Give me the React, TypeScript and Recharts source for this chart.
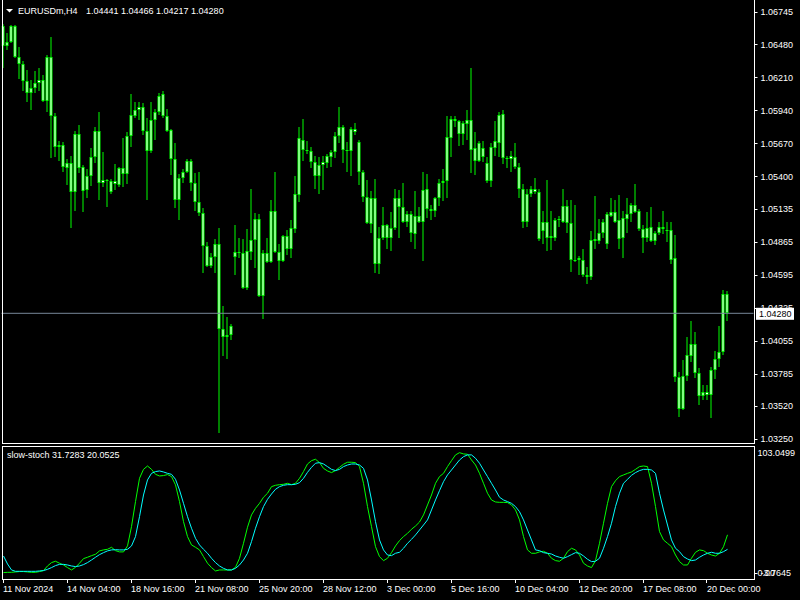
import React from 'react'
import { ComposedChart, Bar, Line, XAxis, YAxis, ReferenceLine } from 'recharts'

// EURUSDm H4, 11 Nov - 20 Dec 2024, one entry per bar (oldest first)
const OPEN = [
  1.0663, 1.0647, 1.0650, 1.0663, 1.0638, 1.0632, 1.0618, 1.0608, 1.0612, 1.0616,
  1.0619, 1.0602, 1.0638, 1.0589, 1.0564, 1.0566, 1.0547, 1.0551, 1.0527, 1.0575,
  1.0548, 1.0529, 1.0540, 1.0556, 1.0577, 1.0535, 1.0537, 1.0536, 1.0534, 1.0533,
  1.0547, 1.0542, 1.0573, 1.0589, 1.0594, 1.0597, 1.0577, 1.0561, 1.0586, 1.0593,
  1.0607, 1.0589, 1.0578, 1.0554, 1.0521, 1.0539, 1.0544, 1.0553, 1.0535, 1.0519,
  1.0510, 1.0483, 1.0467, 1.0474, 1.0485, 1.0415, 1.0409, 1.0410, 1.0474, 1.0478,
  1.0477, 1.0449, 1.0478, 1.0488, 1.0505, 1.0442, 1.0477, 1.0470, 1.0512, 1.0478,
  1.0471, 1.0491, 1.0481, 1.0497, 1.0525, 1.0570, 1.0562, 1.0561, 1.0552, 1.0540,
  1.0549, 1.0551, 1.0556, 1.0560, 1.0573, 1.0580, 1.0562, 1.0561, 1.0579, 1.0568,
  1.0544, 1.0523, 1.0501, 1.0522, 1.0468, 1.0490, 1.0500, 1.0490, 1.0498, 1.0522,
  1.0515, 1.0503, 1.0509, 1.0493, 1.0508, 1.0503, 1.0530, 1.0513, 1.0512, 1.0522,
  1.0535, 1.0536, 1.0571, 1.0587, 1.0585, 1.0575, 1.0583, 1.0586, 1.0563, 1.0553,
  1.0563, 1.0551, 1.0536, 1.0563, 1.0567, 1.0591, 1.0555, 1.0554, 1.0556, 1.0548,
  1.0530, 1.0503, 1.0526, 1.0530, 1.0527, 1.0495, 1.0503, 1.0490, 1.0490, 1.0504,
  1.0503, 1.0516, 1.0502, 1.0472, 1.0472, 1.0472, 1.0459, 1.0458, 1.0487, 1.0487,
  1.0494, 1.0485, 1.0508, 1.0511, 1.0504, 1.0490, 1.0505, 1.0509, 1.0517, 1.0512,
  1.0497, 1.0490, 1.0499, 1.0487, 1.0494, 1.0499, 1.0496, 1.0496, 1.0473, 1.0376,
  1.0350, 1.0377, 1.0393, 1.0403, 1.0379, 1.0360, 1.0364, 1.0361, 1.0382, 1.0391,
  1.0396, 1.04441,
]
const HIGH = [
  1.0665, 1.0657, 1.0664, 1.0664, 1.0646, 1.0634, 1.0627, 1.0619, 1.0626, 1.0629,
  1.0623, 1.0639, 1.0654, 1.0592, 1.0569, 1.0568, 1.0554, 1.0557, 1.0577, 1.0582,
  1.0549, 1.0546, 1.0563, 1.0580, 1.0593, 1.0560, 1.0538, 1.0538, 1.0550, 1.0548,
  1.0571, 1.0576, 1.0607, 1.0601, 1.0601, 1.0600, 1.0588, 1.0601, 1.0595, 1.0608,
  1.0610, 1.0595, 1.0579, 1.0567, 1.0542, 1.0546, 1.0554, 1.0554, 1.0543, 1.0544,
  1.0514, 1.0486, 1.0477, 1.0489, 1.0498, 1.0434, 1.0425, 1.0419, 1.0500, 1.0490,
  1.0489, 1.0497, 1.0530, 1.0510, 1.0509, 1.0480, 1.0490, 1.0521, 1.0544, 1.0485,
  1.0492, 1.0496, 1.0504, 1.0540, 1.0580, 1.0587, 1.0569, 1.0564, 1.0557, 1.0556,
  1.0557, 1.0558, 1.0562, 1.0576, 1.0597, 1.0582, 1.0568, 1.0580, 1.0584, 1.0570,
  1.0545, 1.0537, 1.0528, 1.0538, 1.0499, 1.0515, 1.0501, 1.0511, 1.0530, 1.0529,
  1.0535, 1.0512, 1.0512, 1.0528, 1.0515, 1.0544, 1.0542, 1.0517, 1.0523, 1.0538,
  1.0546, 1.0589, 1.0589, 1.0589, 1.0586, 1.0585, 1.0594, 1.0629, 1.0576, 1.0569,
  1.0569, 1.0556, 1.0567, 1.0585, 1.0593, 1.0594, 1.0557, 1.0561, 1.0567, 1.0551,
  1.0534, 1.0530, 1.0532, 1.0539, 1.0530, 1.0512, 1.0537, 1.0512, 1.0506, 1.0508,
  1.0530, 1.0521, 1.0521, 1.0517, 1.0475, 1.0481, 1.0466, 1.0495, 1.0524, 1.0505,
  1.0505, 1.0511, 1.0522, 1.0521, 1.0525, 1.0512, 1.0522, 1.0518, 1.0534, 1.0513,
  1.0500, 1.0511, 1.0515, 1.0495, 1.0503, 1.0512, 1.0503, 1.0503, 1.0492, 1.0380,
  1.0390, 1.0409, 1.0422, 1.0413, 1.0383, 1.0369, 1.0369, 1.0384, 1.0397, 1.0418,
  1.0447, 1.04466,
]
const LOW = [
  1.0629, 1.0643, 1.0649, 1.0637, 1.0620, 1.0610, 1.0601, 1.0594, 1.0608, 1.0610,
  1.0601, 1.0593, 1.0555, 1.0556, 1.0553, 1.0544, 1.0533, 1.0498, 1.0512, 1.0543,
  1.0511, 1.0522, 1.0532, 1.0551, 1.0521, 1.0531, 1.0515, 1.0526, 1.0529, 1.0531,
  1.0531, 1.0534, 1.0564, 1.0588, 1.0586, 1.0574, 1.0521, 1.0559, 1.0570, 1.0590,
  1.0588, 1.0576, 1.0541, 1.0514, 1.0504, 1.0535, 1.0543, 1.0528, 1.0512, 1.0508,
  1.0461, 1.0466, 1.0465, 1.0461, 1.0330, 1.0393, 1.0391, 1.0406, 1.0459, 1.0473,
  1.0448, 1.0447, 1.0472, 1.0465, 1.0441, 1.0423, 1.0469, 1.0469, 1.0477, 1.0455,
  1.0470, 1.0476, 1.0473, 1.0494, 1.0519, 1.0553, 1.0558, 1.0547, 1.0530, 1.0526,
  1.0529, 1.0547, 1.0548, 1.0555, 1.0567, 1.0551, 1.0544, 1.0540, 1.0574, 1.0533,
  1.0519, 1.0501, 1.0494, 1.0461, 1.0460, 1.0488, 1.0481, 1.0479, 1.0496, 1.0490,
  1.0502, 1.0499, 1.0486, 1.0481, 1.0502, 1.0471, 1.0506, 1.0504, 1.0507, 1.0516,
  1.0520, 1.0522, 1.0556, 1.0580, 1.0565, 1.0566, 1.0570, 1.0543, 1.0541, 1.0552,
  1.0552, 1.0535, 1.0531, 1.0557, 1.0556, 1.0550, 1.0547, 1.0544, 1.0546, 1.0522,
  1.0498, 1.0499, 1.0523, 1.0526, 1.0487, 1.0485, 1.0479, 1.0480, 1.0487, 1.0499,
  1.0502, 1.0494, 1.0462, 1.0470, 1.0459, 1.0458, 1.0452, 1.0455, 1.0481, 1.0485,
  1.0490, 1.0481, 1.0507, 1.0502, 1.0481, 1.0473, 1.0494, 1.0503, 1.0510, 1.0495,
  1.0477, 1.0486, 1.0486, 1.0484, 1.0492, 1.0493, 1.0486, 1.0468, 1.0372, 1.0343,
  1.0349, 1.0373, 1.0388, 1.0375, 1.0353, 1.0357, 1.0357, 1.0342, 1.0374, 1.0384,
  1.0394, 1.04217,
]
const CLOSE = [
  1.0647, 1.0650, 1.0663, 1.0638, 1.0632, 1.0618, 1.0608, 1.0612, 1.0616, 1.0619,
  1.0602, 1.0638, 1.0589, 1.0564, 1.0566, 1.0548, 1.0551, 1.0527, 1.0575, 1.0547,
  1.0528, 1.0540, 1.0556, 1.0577, 1.0535, 1.0537, 1.0536, 1.0527, 1.0536, 1.0547,
  1.0542, 1.0573, 1.0590, 1.0594, 1.0597, 1.0577, 1.0561, 1.0586, 1.0593, 1.0606,
  1.0589, 1.0577, 1.0554, 1.0521, 1.0539, 1.0544, 1.0553, 1.0535, 1.0519, 1.0510,
  1.0483, 1.0467, 1.0474, 1.0485, 1.0415, 1.0409, 1.0410, 1.0418, 1.0478, 1.0477,
  1.0449, 1.0479, 1.0488, 1.0505, 1.0442, 1.0477, 1.0470, 1.0512, 1.0478, 1.0471,
  1.0491, 1.0481, 1.0498, 1.0526, 1.0571, 1.0562, 1.0561, 1.0552, 1.0540, 1.0549,
  1.0552, 1.0557, 1.0560, 1.0573, 1.0580, 1.0562, 1.0561, 1.0579, 1.0576, 1.0544,
  1.0523, 1.0502, 1.0522, 1.0468, 1.0490, 1.0500, 1.0490, 1.0498, 1.0522, 1.0515,
  1.0503, 1.0509, 1.0494, 1.0508, 1.0503, 1.0529, 1.0513, 1.0512, 1.0522, 1.0535,
  1.0536, 1.0572, 1.0587, 1.0585, 1.0575, 1.0584, 1.0586, 1.0562, 1.0553, 1.0567,
  1.0556, 1.0536, 1.0564, 1.0569, 1.0590, 1.0555, 1.0554, 1.0557, 1.0548, 1.0530,
  1.0503, 1.0526, 1.0530, 1.0527, 1.0489, 1.0503, 1.0490, 1.0491, 1.0504, 1.0505,
  1.0516, 1.0502, 1.0472, 1.0471, 1.0473, 1.0459, 1.0458, 1.0488, 1.0489, 1.0494,
  1.0503, 1.0509, 1.0511, 1.0503, 1.0489, 1.0506, 1.0509, 1.0517, 1.0511, 1.0497,
  1.0490, 1.0498, 1.0487, 1.0494, 1.0499, 1.0497, 1.0495, 1.0472, 1.0376, 1.0350,
  1.0377, 1.0394, 1.0403, 1.0379, 1.0360, 1.0364, 1.0361, 1.0382, 1.0391, 1.0396,
  1.0444, 1.0428,
]

// slow stochastic: main (green) and signal (cyan)
const STOCH_MAIN = [
  1.4, 1.6, 1.6, 1.9, 2.2, 2.2, 1.9, 1.6, 1.6, 2.2,
  3.0, 6.7, 9.4, 10.5, 8.9, 7.5, 5.4, 3.5, 5.6, 8.9,
  12.6, 13.7, 15.0, 16.1, 18.8, 19.6, 20.1, 21.7, 19.0, 18.0,
  18.0, 22.8, 38.3, 58.4, 77.1, 84.3, 87.0, 84.3, 80.3, 79.0,
  79.3, 80.1, 78.5, 71.8, 58.4, 42.3, 30.3, 23.6, 21.7, 19.6,
  14.2, 8.9, 5.4, 2.7, 3.5, 3.5, 3.5, 3.5, 5.6, 12.9,
  24.9, 37.8, 47.7, 53.0, 57.0, 61.9, 65.1, 70.4, 71.5, 72.0,
  72.3, 73.1, 72.0, 73.1, 77.1, 82.5, 88.6, 91.3, 92.4, 89.7,
  85.1, 83.0, 81.7, 83.3, 85.9, 88.4, 90.0, 90.0, 89.7, 86.5,
  73.1, 54.4, 38.3, 22.2, 14.2, 11.0, 12.9, 17.4, 22.8, 27.1,
  30.3, 32.9, 36.2, 38.8, 42.0, 47.7, 55.7, 63.7, 73.1, 78.5,
  81.1, 86.5, 91.3, 95.9, 97.7, 96.7, 96.4, 91.8, 87.8, 81.1,
  73.1, 65.1, 59.7, 58.1, 57.8, 57.8, 57.6, 55.7, 51.7, 43.7,
  30.3, 19.6, 16.9, 16.9, 18.0, 18.5, 16.9, 12.9, 11.0, 10.5,
  12.9, 18.2, 20.9, 19.6, 15.5, 8.9, 6.7, 5.4, 11.0, 24.9,
  41.0, 57.0, 70.4, 75.2, 78.5, 79.8, 81.1, 82.2, 84.3, 86.5,
  87.0, 86.5, 73.1, 54.4, 34.3, 27.6, 24.9, 22.2, 15.5, 10.2,
  7.5, 7.5, 12.9, 17.7, 19.6, 19.0, 16.9, 15.5, 14.7, 16.9,
  22.2, 31.7283,
]
const STOCH_SIGNAL = [
  14.7, 8.3, 3.5, 2.4, 2.4, 2.4, 2.4, 2.4, 2.4, 2.7,
  3.0, 4.0, 5.4, 7.0, 8.0, 8.0, 7.5, 6.7, 6.2, 6.7,
  7.8, 9.4, 11.5, 13.7, 15.8, 17.4, 18.8, 19.6, 19.8, 19.6,
  19.6, 20.1, 22.8, 30.3, 46.3, 63.7, 75.8, 81.1, 82.5, 83.0,
  82.2, 81.1, 80.3, 76.3, 67.7, 57.0, 46.3, 37.0, 28.9, 23.6,
  20.1, 16.9, 12.9, 9.4, 6.7, 4.8, 3.5, 3.5, 4.8, 7.5,
  11.5, 16.9, 26.3, 37.0, 46.3, 54.4, 60.2, 64.5, 68.3, 70.4,
  71.5, 72.0, 72.0, 72.3, 73.6, 77.1, 81.9, 85.9, 89.2, 89.7,
  88.6, 86.5, 84.3, 83.3, 84.3, 86.5, 87.8, 88.6, 88.6, 87.8,
  85.1, 75.8, 59.7, 42.3, 27.6, 19.6, 15.5, 15.0, 16.9, 17.7,
  20.9, 24.9, 28.1, 31.6, 35.6, 39.6, 43.7, 51.7, 59.7, 67.2,
  74.4, 79.8, 83.8, 87.8, 91.8, 94.5, 95.9, 95.9, 93.2, 89.2,
  83.8, 78.5, 73.1, 67.7, 61.9, 59.7, 58.4, 57.0, 54.4, 50.3,
  43.7, 35.6, 27.6, 19.6, 19.0, 17.4, 16.9, 16.3, 14.7, 13.7,
  12.9, 14.2, 15.8, 17.4, 16.9, 14.7, 12.1, 10.2, 10.5, 12.9,
  20.9, 30.3, 41.0, 54.4, 65.1, 73.1, 76.3, 79.5, 81.7, 83.3,
  84.3, 84.3, 83.8, 81.1, 65.1, 51.7, 39.6, 27.6, 20.9, 18.2,
  14.2, 12.3, 11.0, 11.5, 13.7, 15.5, 16.9, 17.7, 16.9, 16.9,
  18.2, 20.0525,
]

const PRICE_TICKS = [
  1.06745, 1.0648, 1.0621, 1.0594, 1.0567, 1.054, 1.05135,
  1.04865, 1.04595, 1.04325, 1.04055, 1.03785, 1.0352, 1.0325,
]
const TIME_LABEL_BARS = [0, 16, 32, 48, 64, 80, 96, 112, 128, 144, 160, 176]
const TIME_LABELS = [
  '11 Nov 2024', '14 Nov 04:00', '18 Nov 16:00', '21 Nov 08:00', '25 Nov 20:00', '28 Nov 12:00',
  '3 Dec 00:00', '5 Dec 16:00', '10 Dec 04:00', '12 Dec 20:00', '17 Dec 08:00', '20 Dec 00:00',
]
const STOCH_TICKS = [103.0499, 0, -3.7645]

const SYMBOL = 'EURUSDm,H4'
const LAST_PRICE = 1.0428
const PRICE_DOMAIN = [1.03219, 1.06843]
const STOCH_DOMAIN = [-3.7645, 103.0499]
const SLOTS = 188 // visible bar slots incl. right shift

const CANDLE = '#00ff00'
const SIGNAL = '#00ffff'
const FONT = '"Liberation Sans", Arial, sans-serif'

const rows = OPEN.map((o, i) => ({
  i,
  range: [LOW[i], HIGH[i]],
  open: o,
  high: HIGH[i],
  low: LOW[i],
  close: CLOSE[i],
  k: STOCH_MAIN[i],
  d: STOCH_SIGNAL[i],
}))

const Candle = (props: any) => {
  const { x, y, width, height, payload } = props
  if (!payload || !(height > 0)) return null
  const cx = x + width / 2
  const k = height / (payload.high - payload.low)
  const top = y + (payload.high - Math.max(payload.open, payload.close)) * k
  const bot = y + (payload.high - Math.min(payload.open, payload.close)) * k
  const bt = Math.round(top) + 0.5
  const bb = Math.max(bt, Math.round(bot) - 0.5)
  return (
    <g>
      <line x1={cx} x2={cx} y1={Math.round(y)} y2={Math.round(y + height)} stroke={CANDLE} strokeWidth={1} />
      {bb - bt < 1 ? (
        <line x1={cx - 1.5} x2={cx + 1.5} y1={bt} y2={bt} stroke={CANDLE} strokeWidth={1} />
      ) : (
        <rect x={cx - 1} y={bt} width={2} height={bb - bt} fill="#ffffff" stroke={CANDLE} strokeWidth={1} />
      )}
    </g>
  )
}

const PriceTick = (p: any) => {
  const ty = Math.round(p.y) + 0.5
  return (
    <g>
      <line x1={p.x + 1.5} x2={p.x + 4} y1={ty} y2={ty} stroke="#fff" />
      <text x={p.x + 7} y={p.y + 3.2} fill="#fff" fontSize={9} fontFamily={FONT}>
        {Number(p.payload.value).toFixed(5)}
      </text>
    </g>
  )
}

const PriceTag = (props: any) => {
  const vb = props.viewBox
  if (!vb) return null
  const left = vb.x + vb.width + 2.5
  return (
    <g>
      <rect x={left} y={vb.y - 5.5} width={38} height={12} fill="#fff" />
      <text x={left + 3} y={vb.y + 3.5} fill="#000" fontSize={9} fontFamily={FONT}>
        {LAST_PRICE.toFixed(5)}
      </text>
    </g>
  )
}

const StochTick = (p: any) => {
  const v = Number(p.payload.value)
  let dy = 3.2
  let label = v.toFixed(4)
  if (v === 0) {
    label = '0.00'
    dy = 2
  } else if (v > 50) dy = 9.5
  else dy = -3
  return (
    <g>
      {v === 0 && <line x1={p.x + 1.5} x2={p.x + 4} y1={Math.round(p.y) - 0.5} y2={Math.round(p.y) - 0.5} stroke="#fff" />}
      <text x={p.x + (v < 0 ? 7 : 4)} y={p.y + dy} fill="#fff" fontSize={9} fontFamily={FONT}>
        {label}
      </text>
    </g>
  )
}

const TimeTick = (p: any) => {
  const idx = TIME_LABEL_BARS.indexOf(Number(p.payload.value))
  if (idx < 0) return null
  const tx = Math.round(p.x) - 0.5
  return (
    <g>
      <line x1={tx} x2={tx} y1={p.y} y2={p.y + 4} stroke="#fff" />
      <text x={p.x - 0.5} y={p.y + 12.5} fill="#fff" fontSize={9} fontFamily={FONT}>
        {TIME_LABELS[idx]}
      </text>
    </g>
  )
}

const hLine = (top: number, left: number, width: number) => (
  <div style={{ position: 'absolute', top, left, width, height: 1, background: '#fff' }} />
)
const vLine = (left: number, top: number, height: number) => (
  <div style={{ position: 'absolute', top, left, width: 1, height, background: '#fff' }} />
)

export default function App() {
  return (
    <div style={{ position: 'relative', width: 800, height: 600, background: '#000', overflow: 'hidden', fontFamily: FONT }}>
      <style>{'body{margin:0;background:#000}'}</style>

      <div style={{ position: 'absolute', top: 0, left: 0 }}>
        <ComposedChart width={800} height={443} data={rows} margin={{ top: 0, right: 0, bottom: 0, left: 1.5 }}>
          <XAxis type="number" dataKey="i" domain={[-0.5, SLOTS - 0.5]} allowDataOverflow hide />
          <YAxis
            orientation="right"
            domain={PRICE_DOMAIN}
            allowDataOverflow
            ticks={PRICE_TICKS}
            interval={0}
            width={46.5}
            axisLine={false}
            tickLine={false}
            tickSize={0}
            tickMargin={0}
            tick={<PriceTick />}
          />
          <Bar dataKey="range" barSize={3} shape={<Candle />} isAnimationActive={false} />
          <ReferenceLine y={LAST_PRICE} stroke="#778899" strokeWidth={1} label={<PriceTag />} />
        </ComposedChart>
      </div>

      <div style={{ position: 'absolute', top: 446, left: 0 }}>
        <ComposedChart width={800} height={154} data={rows} margin={{ top: 0, right: 0, bottom: 0, left: 1.5 }}>
          <XAxis
            type="number"
            dataKey="i"
            domain={[-0.5, SLOTS - 0.5]}
            allowDataOverflow
            ticks={TIME_LABEL_BARS}
            interval={0}
            height={21}
            axisLine={false}
            tickLine={false}
            tickSize={0}
            tickMargin={0}
            tick={<TimeTick />}
          />
          <YAxis
            orientation="right"
            domain={STOCH_DOMAIN}
            allowDataOverflow
            ticks={STOCH_TICKS}
            interval={0}
            width={46.5}
            axisLine={false}
            tickLine={false}
            tickSize={0}
            tickMargin={0}
            tick={<StochTick />}
          />
          <Line dataKey="k" type="linear" stroke={CANDLE} strokeWidth={1} dot={false} isAnimationActive={false} />
          <Line dataKey="d" type="linear" stroke={SIGNAL} strokeWidth={1} dot={false} isAnimationActive={false} />
        </ComposedChart>
      </div>

      {/* window frames */}
      {vLine(2, 0, 444)}
      {vLine(754, 0, 444)}
      {hLine(443, 2, 753)}
      {hLine(446, 2, 753)}
      {vLine(2, 446, 134)}
      {vLine(754, 446, 134)}
      {hLine(579, 2, 753)}

      {/* header */}
      <svg style={{ position: 'absolute', top: 0, left: 0 }} width={20} height={20}>
        <polygon points="6,9 13,9 9.5,12.5" fill="#fff" />
      </svg>
      <div style={{ position: 'absolute', top: 5, left: 18, fontSize: 9, lineHeight: '12px', color: '#fff', whiteSpace: 'pre' }}>
        {SYMBOL}
      </div>
      <div style={{ position: 'absolute', top: 5, left: 86, fontSize: 9, lineHeight: '12px', color: '#fff', whiteSpace: 'pre' }}>
        {[OPEN[OPEN.length - 1], HIGH[HIGH.length - 1], LOW[LOW.length - 1], CLOSE[CLOSE.length - 1]].map((v) => v.toFixed(5)).join(' ')}
      </div>
      <div style={{ position: 'absolute', top: 449, left: 7, fontSize: 9, lineHeight: '12px', color: '#fff', whiteSpace: 'pre' }}>
        {`slow-stoch ${STOCH_MAIN[STOCH_MAIN.length - 1].toFixed(4)} ${STOCH_SIGNAL[STOCH_SIGNAL.length - 1].toFixed(4)}`}
      </div>
    </div>
  )
}
